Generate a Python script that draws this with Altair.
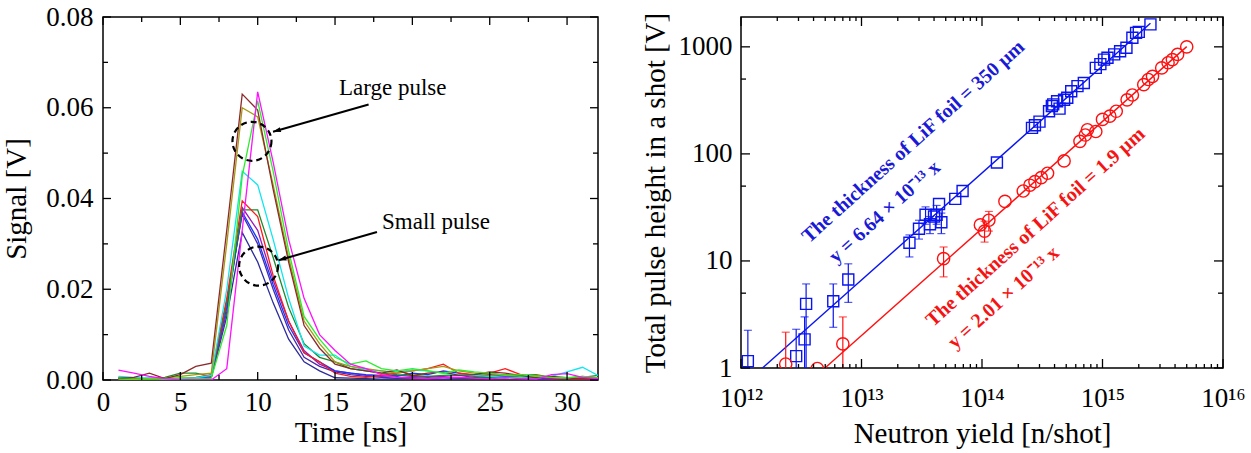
import altair as alt
import pandas as pd

FONT = "Liberation Serif"

# ---------------- left panel: detector waveforms (1 ns sampling) ----------------
time_ns = list(range(1, 33))

brown = [0.0003, 0.0006, 0.0015, 0.0003, 0.0012, 0.0030, 0.0037, 0.0330, 0.0630, 0.0595, 0.0420, 0.0260, 0.0120, 0.0070, 0.0035, 0.0025,
         0.0020, 0.0015, 0.0022, 0.0010, 0.0015, 0.0018, 0.0010, 0.0012, 0.0018, 0.0015, 0.0010, 0.0005, 0.0008, 0.0005, 0.0002, 0.0003]
olive = [0.0005, 0.0003, 0.0002, 0.0004, 0.0008, 0.0012, 0.0015, 0.0300, 0.0600, 0.0580, 0.0430, 0.0270, 0.0130, 0.0080, 0.0040, 0.0030,
         0.0025, 0.0020, 0.0015, 0.0020, 0.0025, 0.0030, 0.0020, 0.0015, 0.0010, 0.0012, 0.0008, 0.0010, 0.0006, 0.0004, 0.0008, 0.0005]
lime = [0.0002, 0.0001, 0.0003, 0.0002, 0.0005, 0.0003, 0.0004, 0.0120, 0.0450, 0.0615, 0.0460, 0.0285, 0.0140, 0.0090, 0.0050, 0.0035,
        0.0042, 0.0025, 0.0020, 0.0025, 0.0020, 0.0015, 0.0022, 0.0018, 0.0015, 0.0010, 0.0012, 0.0008, 0.0006, 0.0005, 0.0008, 0.0004]
magenta = [0.0022, 0.0015, 0.0008, 0.0003, 0.0001, 0.0000, 0.0000, 0.0025, 0.0330, 0.0635, 0.0480, 0.0310, 0.0180, 0.0100, 0.0065, 0.0035,
           0.0025, 0.0012, 0.0006, 0.0004, 0.0003, 0.0005, 0.0006, 0.0004, 0.0003, 0.0005, 0.0003, 0.0002, 0.0012, 0.0014, 0.0006, 0.0003]
cyan = [0.0008, 0.0006, 0.0004, 0.0002, 0.0003, 0.0005, 0.0010, 0.0200, 0.0460, 0.0430, 0.0310, 0.0180, 0.0075, 0.0055, 0.0055, 0.0030,
        0.0022, 0.0020, 0.0018, 0.0022, 0.0020, 0.0015, 0.0012, 0.0010, 0.0008, 0.0006, 0.0005, 0.0004, 0.0008, 0.0018, 0.0028, 0.0010]
red = [0.0002, 0.0004, 0.0001, 0.0002, 0.0003, 0.0006, 0.0012, 0.0180, 0.0395, 0.0360, 0.0230, 0.0130, 0.0060, 0.0040, 0.0015, 0.0008,
       0.0006, 0.0010, 0.0015, 0.0020, 0.0025, 0.0035, 0.0015, 0.0012, 0.0015, 0.0025, 0.0012, 0.0006, 0.0004, 0.0003, 0.0002, 0.0004]
dkgreen = [0.0004, 0.0002, 0.0003, 0.0006, 0.0015, 0.0015, 0.0008, 0.0170, 0.0375, 0.0375, 0.0270, 0.0160, 0.0080, 0.0050, 0.0040, 0.0025,
           0.0020, 0.0015, 0.0012, 0.0010, 0.0008, 0.0010, 0.0012, 0.0008, 0.0006, 0.0005, 0.0010, 0.0012, 0.0006, 0.0004, 0.0006, 0.0010]
blue = [0.0006, 0.0004, 0.0002, 0.0001, 0.0002, 0.0003, 0.0010, 0.0160, 0.0370, 0.0310, 0.0210, 0.0120, 0.0060, 0.0040, 0.0020, 0.0015,
        0.0012, 0.0010, 0.0008, 0.0015, 0.0012, 0.0020, 0.0015, 0.0010, 0.0012, 0.0008, 0.0006, 0.0004, 0.0003, 0.0005, 0.0004, 0.0002]
purple = [0.0001, 0.0002, 0.0004, 0.0003, 0.0002, 0.0001, 0.0006, 0.0150, 0.0380, 0.0330, 0.0220, 0.0130, 0.0065, 0.0035, 0.0020, 0.0015,
          0.0010, 0.0008, 0.0010, 0.0008, 0.0006, 0.0008, 0.0010, 0.0006, 0.0015, 0.0010, 0.0005, 0.0003, 0.0002, 0.0004, 0.0003, 0.0002]
indigo = [0.0003, 0.0001, 0.0002, 0.0001, 0.0001, 0.0002, 0.0008, 0.0170, 0.0365, 0.0300, 0.0200, 0.0110, 0.0050, 0.0030, 0.0018, 0.0012,
          0.0008, 0.0006, 0.0004, 0.0006, 0.0008, 0.0006, 0.0004, 0.0005, 0.0010, 0.0012, 0.0006, 0.0003, 0.0002, 0.0003, 0.0004, 0.0002]
slate = [0.0002, 0.0003, 0.0001, 0.0002, 0.0001, 0.0001, 0.0005, 0.0140, 0.0325, 0.0260, 0.0170, 0.0090, 0.0040, 0.0020, 0.0005, 0.0004,
         0.0003, 0.0002, 0.0003, 0.0004, 0.0003, 0.0002, 0.0003, 0.0004, 0.0006, 0.0008, 0.0005, 0.0003, 0.0002, 0.0002, 0.0003, 0.0002]

pulse_series = {
    "slate": slate, "indigo": indigo, "purple": purple, "blue": blue, "dkgreen": dkgreen,
    "red": red, "cyan": cyan, "olive": olive, "brown": brown, "lime": lime, "magenta": magenta,
}
pulse_colors = {
    "slate": "#2b2b9c", "indigo": "#4a2aa8", "purple": "#9a18b4", "blue": "#1238ff", "dkgreen": "#1a8a2a",
    "red": "#ff1a1a", "cyan": "#10e6f0", "olive": "#a39a10", "brown": "#8c2a2a", "lime": "#2aee2a", "magenta": "#ff10ff",
}

# annotation positions (time, signal)
circle_t = [9.63, 10.06]
circle_v = [0.0526, 0.0251]
arrow_t0 = [17.17, 17.71]
arrow_v0 = [0.0607, 0.0326]
arrow_t1 = [10.99, 11.35]
arrow_v1 = [0.0547, 0.0264]
note_t = [18.73, 21.53]
note_v = [0.0644, 0.0348]
note_text = ["Large pulse", "Small pulse"]

# tick positions for the left frame
time_major = [0, 5, 10, 15, 20, 25, 30]
time_minor = [2.5, 7.5, 12.5, 17.5, 22.5, 27.5]
sig_major = [0.0, 0.02, 0.04, 0.06, 0.08]
sig_minor = [0.01, 0.03, 0.05, 0.07]

# ---------------- right panel: pulse height vs neutron yield ----------------
thick_x = [1.14e12, 2.87e12, 3.37e12, 3.47e12, 5.83e12, 7.77e12, 2.5e13, 3.0e13, 3.4e13, 3.7e13, 4.0e13, 4.2e13, 4.6e13,
           4.4e13, 6.0e13, 6.9e13, 1.33e14, 2.6e14, 2.75e14, 3.0e14, 3.6e14, 3.8e14, 3.9e14, 4.2e14, 4.4e14, 4.8e14,
           5.1e14, 5.5e14, 6.2e14, 7.0e14, 8.8e14, 9.6e14, 1.03e15, 1.1e15, 1.25e15, 1.4e15, 1.58e15, 1.77e15, 1.9e15,
           2.0e15, 2.5e15]
thick_y = [1.16, 1.29, 1.85, 3.97, 4.2, 6.7, 14.8, 20, 27, 22, 26, 27, 23,
           34, 38, 45, 83, 175, 185, 200, 250, 280, 290, 310, 265, 320,
           335, 385, 430, 460, 636, 690, 760, 790, 850, 910, 980, 1215, 1350,
           1380, 1620]
thick_err_x = [1.14e12, 2.87e12, 3.37e12, 3.47e12, 5.83e12, 7.77e12, 2.5e13, 3.0e13, 3.4e13, 3.7e13, 4.2e13, 4.6e13]
thick_err_lo = [0.5, 0.6, 0.8, 0.5, 2.4, 4.1, 10.9, 16, 22, 18, 22, 18]
thick_err_hi = [2.25, 2.3, 3.0, 6.1, 6.1, 9.4, 17.5, 24, 32, 26, 33, 28]

thin_x = [2.35e12, 4.3e12, 7.0e12, 4.8e13, 9.7e13, 1.05e14, 1.14e14, 1.55e14, 2.2e14, 2.5e14, 2.75e14, 3.1e14, 3.5e14,
          4.8e14, 6.5e14, 7.2e14, 7.5e14, 8.8e14, 1.0e15, 1.15e15, 1.3e15, 1.6e15, 1.77e15, 2.2e15, 2.4e15, 2.6e15,
          3.1e15, 3.5e15, 3.8e15, 4.2e15, 5.0e15]
thin_y = [1.09, 0.99, 1.68, 10.5, 21.7, 19, 24, 36, 45, 51, 55, 60, 66,
          86, 131, 150, 168, 162, 210, 225, 250, 320, 355, 443, 495, 530,
          636, 710, 760, 850, 1000]
thin_err_x = [2.35e12, 7.0e12, 4.8e13, 1.05e14, 1.14e14]
thin_err_lo = [0.5, 0.5, 7.1, 15, 19]
thin_err_hi = [2.16, 3.0, 13.5, 23.5, 29]

# proportional fits y = k x
thick_k = 6.64e-13
thin_k = 2.01e-13
thick_fit_x = [1.0e12, 2.5e15]
thin_fit_x = [4.0e12, 5.0e15]

thick_label_x = [2.69e13, 1.56e13]
thick_label_y = [130, 28.7]
thick_labels = ["The thickness of LiF foil = 350 µm", "y = 6.64 × 10⁻¹³ x"]
thin_label_x = [2.78e14, 1.51e14]
thin_label_y = [20.7, 4.54]
thin_labels = ["The thickness of LiF foil = 1.9 µm", "y = 2.01 × 10⁻¹³ x"]

yield_major = [1e12, 1e13, 1e14, 1e15, 1e16]
yield_minor = [m * 10 ** e for e in (12, 13, 14, 15) for m in range(2, 10)]
ph_major = [1, 10, 100, 1000]
ph_minor = [5, 50, 500]

BLUE = "#0a14f0"
RED = "#ff1010"
BLUE_TXT = "#1a1ad6"
RED_TXT = "#f51414"

LW, LH = 495, 363
RW, RH = 482, 351


def frame_ticks(values, field, direction, length, w, h):
    df = pd.DataFrame({field: values})
    base = alt.Chart(df).mark_rule(color="black", strokeWidth=1.3)
    if direction == "x":
        return [
            base.encode(x=f"{field}:Q", y=alt.value(0), y2=alt.value(length)),
            base.encode(x=f"{field}:Q", y=alt.value(h), y2=alt.value(h - length)),
        ]
    return [
        base.encode(y=f"{field}:Q", x=alt.value(0), x2=alt.value(length)),
        base.encode(y=f"{field}:Q", x=alt.value(w), x2=alt.value(w - length)),
    ]


# ---- left chart ----
pulse_rows = []
for name, vals in pulse_series.items():
    for t, v in zip(time_ns, vals):
        pulse_rows.append({"series": name, "t": t, "v": v})
pulse_df = pd.DataFrame(pulse_rows)

x_time = alt.X(
    "t:Q",
    scale=alt.Scale(domain=[0, 32], nice=False, zero=False),
    axis=alt.Axis(values=time_major, format="d", title="Time [ns]", ticks=False, domain=False, grid=False,
                  labelFlush=False, labelPadding=9, titlePadding=3),
)
y_sig = alt.Y(
    "v:Q",
    scale=alt.Scale(domain=[0, 0.08], nice=False),
    axis=alt.Axis(values=sig_major, format=".2f", title="Signal [V]", ticks=False, domain=False, grid=False,
                  labelFlush=False, labelPadding=10, titlePadding=14),
)

pulse_lines = alt.Chart(pulse_df).mark_line(strokeWidth=1.3, clip=True).encode(
    x=x_time,
    y=y_sig,
    color=alt.Color("series:N", scale=alt.Scale(domain=list(pulse_colors.keys()),
                                                 range=list(pulse_colors.values())), legend=None),
    detail="series:N",
)

circle_df = pd.DataFrame({"t": circle_t, "v": circle_v})
circles = alt.Chart(circle_df).mark_point(
    shape="circle", size=1521, filled=False, stroke="black", strokeWidth=2.2, strokeDash=[6, 4], opacity=1
).encode(x="t:Q", y="v:Q")

arrow_df = pd.DataFrame({"t": arrow_t0, "v": arrow_v0, "t2": arrow_t1, "v2": arrow_v1})
arrow_lines = alt.Chart(arrow_df).mark_rule(color="black", strokeWidth=2).encode(
    x="t:Q", y="v:Q", x2="t2:Q", y2="v2:Q"
)
head_df = pd.DataFrame({"t": arrow_t1, "v": arrow_v1})
arrow_heads = alt.Chart(head_df).mark_point(
    shape="M0,0L-2.6,-0.85L-2.6,0.85Z", size=36, filled=True, color="black", opacity=1, angle=164
).encode(x="t:Q", y="v:Q")

note_df = pd.DataFrame({"t": note_t, "v": note_v, "label": note_text})
notes = alt.Chart(note_df).mark_text(font=FONT, fontSize=23, color="black", baseline="middle").encode(
    x="t:Q", y="v:Q", text="label:N"
)

left_layers = [pulse_lines, circles, arrow_lines, arrow_heads, notes]
left_layers += frame_ticks(time_major, "t", "x", 8, LW, LH)
left_layers += frame_ticks(time_minor, "t", "x", 5, LW, LH)
left_layers += frame_ticks(sig_major, "v", "y", 8, LW, LH)
left_layers += frame_ticks(sig_minor, "v", "y", 5, LW, LH)
left = alt.layer(*left_layers).properties(width=LW, height=LH)

# ---- right chart ----
x_yield = alt.X(
    "nx:Q",
    scale=alt.Scale(type="log", domain=[1e12, 1e16], nice=False),
    axis=alt.Axis(values=yield_major, title="Neutron yield [n/shot]", ticks=False, domain=False, grid=False,
                  labelFlush=False, labelOverlap=False, labelPadding=17, titlePadding=8,
                  labelExpr="['10¹²','10¹³','10¹⁴','10¹⁵','10¹⁶'][round(log(datum.value)/LN10) - 12]"),
)
y_ph = alt.Y(
    "ph:Q",
    scale=alt.Scale(type="log", domain=[1, 1900], nice=False),
    axis=alt.Axis(values=ph_major, format="d", title="Total pulse height in a shot [V]", ticks=False,
                  domain=False, grid=False, labelFlush=False, labelOverlap=False, labelPadding=9,
                  titlePadding=8),
)

thick_df = pd.DataFrame({"nx": thick_x, "ph": thick_y})
thin_df = pd.DataFrame({"nx": thin_x, "ph": thin_y})
thick_err = pd.DataFrame({"nx": thick_err_x, "ph": thick_err_lo, "hi": thick_err_hi})
thin_err = pd.DataFrame({"nx": thin_err_x, "ph": thin_err_lo, "hi": thin_err_hi})
thick_fit = pd.DataFrame({"nx": thick_fit_x, "ph": [thick_k * v for v in thick_fit_x]})
thin_fit = pd.DataFrame({"nx": thin_fit_x, "ph": [thin_k * v for v in thin_fit_x]})


def error_layers(df, color):
    bar = alt.Chart(df).mark_rule(color=color, strokeWidth=1.2, clip=True).encode(
        x="nx:Q", y="ph:Q", y2="hi:Q")
    cap_lo = alt.Chart(df).mark_tick(color=color, thickness=1.2, size=8, orient="horizontal", clip=True).encode(
        x="nx:Q", y="ph:Q")
    cap_hi = alt.Chart(df).mark_tick(color=color, thickness=1.2, size=8, orient="horizontal", clip=True).encode(
        x="nx:Q", y=alt.Y("hi:Q"))
    return [bar, cap_lo, cap_hi]


def fit_text(xs, ys, labels, color):
    df = pd.DataFrame({"nx": xs, "ph": ys, "label": labels})
    return alt.Chart(df).mark_text(font=FONT, fontSize=20, fontWeight="bold", angle=318, color=color,
                                   baseline="middle", align="center").encode(
        x="nx:Q", y="ph:Q", text="label:N")


fit_thick = alt.Chart(thick_fit).mark_line(color=BLUE, strokeWidth=1.4, clip=True).encode(x=x_yield, y=y_ph)
fit_thin = alt.Chart(thin_fit).mark_line(color=RED, strokeWidth=1.4, clip=True).encode(x="nx:Q", y="ph:Q")

pts_thick = alt.Chart(thick_df).mark_point(shape="square", size=121, filled=False, color=BLUE, strokeWidth=1.4,
                                           opacity=1, clip=True).encode(x="nx:Q", y="ph:Q")
pts_thin = alt.Chart(thin_df).mark_point(shape="circle", size=150, filled=False, color=RED, strokeWidth=1.4,
                                         opacity=1, clip=True).encode(x="nx:Q", y="ph:Q")

right_layers = [fit_thick, fit_thin]
right_layers += error_layers(thick_err, BLUE)
right_layers += error_layers(thin_err, RED)
right_layers += [pts_thick, pts_thin,
                 fit_text(thick_label_x, thick_label_y, thick_labels, BLUE_TXT),
                 fit_text(thin_label_x, thin_label_y, thin_labels, RED_TXT)]
right_layers += frame_ticks(yield_major, "nx", "x", 9, RW, RH)
right_layers += frame_ticks(yield_minor, "nx", "x", 4, RW, RH)
right_layers += frame_ticks(ph_major, "ph", "y", 9, RW, RH)
right_layers += frame_ticks(ph_minor, "ph", "y", 5, RW, RH)
right = alt.layer(*right_layers).properties(width=RW, height=RH)

chart = (
    alt.hconcat(left, right, spacing=143, bounds="flush")
    .properties(padding={"left": 2, "top": 2, "right": 0, "bottom": 0}, background="white")
    .configure_view(stroke="black", strokeWidth=1.5)
    .configure_axis(labelFont=FONT, titleFont=FONT, labelFontSize=27, titleFontSize=29,
                    titleFontWeight="normal", labelColor="black", titleColor="black")
)

chart.save("out.html", embed_options={"renderer": "svg", "actions": False})
